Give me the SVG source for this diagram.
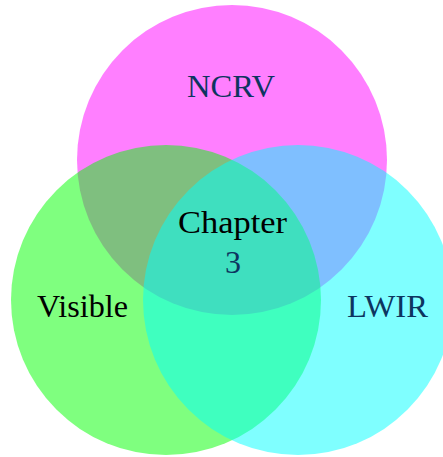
<svg xmlns="http://www.w3.org/2000/svg" width="443" height="457" viewBox="0 0 443 457">
<style>
.c{fill-opacity:0.5;stroke:none}
.t{font-family:"Liberation Serif","DejaVu Serif",serif;font-size:32px;text-anchor:middle}
.n{fill:#0d3560}
.k{fill:#000}
</style>
<rect width="443" height="457" fill="#fff"/>
<g id="ncrv">
<circle class="c" cx="232" cy="160" r="155" fill="#ff00ff"/>
</g>
<g id="visible">
<circle class="c" cx="166" cy="300" r="155" fill="#00ff00"/>
</g>
<g id="lwir">
<circle class="c" cx="298" cy="300" r="155" fill="#00ffff"/>
</g>
<g id="labels">
<text class="t n" x="231" y="97" textLength="88" lengthAdjust="spacingAndGlyphs">NCRV</text>
<text class="t k" x="232.5" y="233" textLength="109" lengthAdjust="spacingAndGlyphs">Chapter</text>
<text class="t n" x="233" y="273">3</text>
<text class="t k" x="82.5" y="317" textLength="91" lengthAdjust="spacingAndGlyphs">Visible</text>
<text class="t n" x="387.5" y="317" textLength="81" lengthAdjust="spacingAndGlyphs">LWIR</text>
</g>
</svg>
